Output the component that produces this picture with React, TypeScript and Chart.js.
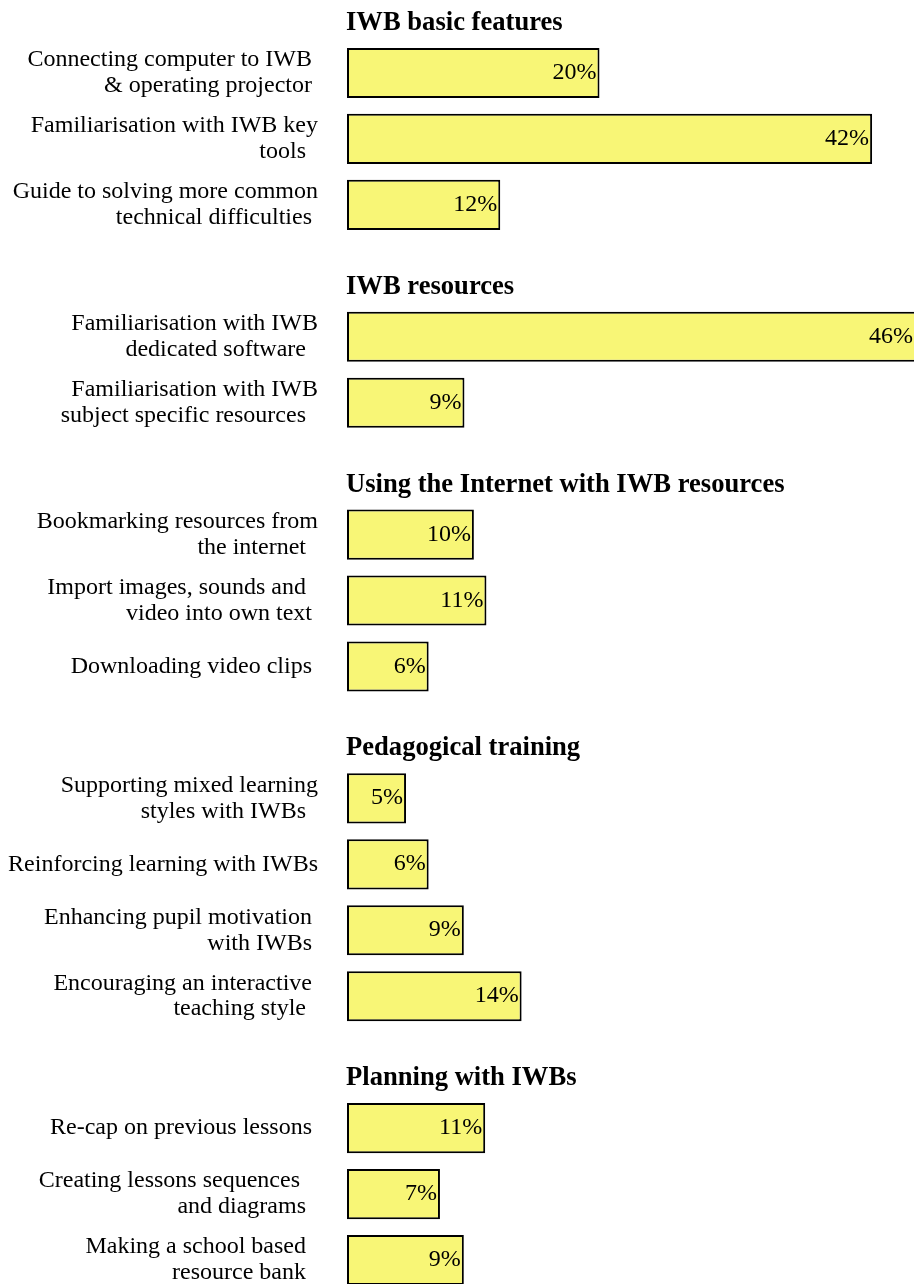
import React, { useEffect, useRef } from "react";
import { Chart, registerables } from "chart.js";

Chart.register(...registerables);

const sectionTitles = [
  "IWB basic features",
  "IWB resources",
  "Using the Internet with IWB resources",
  "Pedagogical training",
  "Planning with IWBs",
];

const basicLabels = [
  ["Connecting computer to IWB ", "& operating projector "],
  ["Familiarisation with IWB key", "tools  "],
  ["Guide to solving more common", "technical difficulties "],
];
const resourceLabels = [
  ["Familiarisation with IWB", "dedicated software  "],
  ["Familiarisation with IWB", "subject specific resources  "],
];
const internetLabels = [
  ["Bookmarking resources from", "the internet  "],
  ["Import images, sounds and  ", "video into own text "],
  ["Downloading video clips "],
];
const pedagogyLabels = [
  ["Supporting mixed learning", "styles with IWBs  "],
  ["Reinforcing learning with IWBs"],
  ["Enhancing pupil motivation ", "with IWBs "],
  ["Encouraging an interactive ", "teaching style  "],
];
const planningLabels = [
  ["Re-cap on previous lessons "],
  ["Creating lessons sequences   ", "and diagrams  "],
  ["Making a school based  ", "resource bank  "],
];

// bar lengths (percent)
const basicShares = [20.1, 41.8, 12.2];
const resourceShares = [45.3, 9.35];
const internetShares = [10.1, 11.1, 6.5];
const pedagogyShares = [4.7, 6.5, 9.3, 13.9];
const planningShares = [11.0, 7.4, 9.3];

// printed percentages
const basicPrinted = ["20%", "42%", "12%"];
const resourcePrinted = ["46%", "9%"];
const internetPrinted = ["10%", "11%", "6%"];
const pedagogyPrinted = ["5%", "6%", "9%", "14%"];
const planningPrinted = ["11%", "7%", "9%"];

const sectionLabels = [basicLabels, resourceLabels, internetLabels, pedagogyLabels, planningLabels];
const sectionShares = [basicShares, resourceShares, internetShares, pedagogyShares, planningShares];
const sectionPrinted = [basicPrinted, resourcePrinted, internetPrinted, pedagogyPrinted, planningPrinted];

const SERIF = "'Liberation Serif', 'Times New Roman', serif";

export default function App() {
  const ref = useRef<HTMLCanvasElement | null>(null);

  useEffect(() => {
    const canvas = ref.current;
    if (!canvas) return;

    const categories: (string[] | string)[] = [];
    const values: (number | null)[] = [];
    const printed: (string | null)[] = [];
    const headingAt: { index: number; title: string }[] = [];

    sectionTitles.forEach((title, s) => {
      if (s > 0) {
        categories.push("");
        values.push(null);
        printed.push(null);
      }
      headingAt.push({ index: categories.length, title });
      sectionLabels[s].forEach((lab, i) => {
        categories.push(lab);
        values.push(sectionShares[s][i]);
        printed.push(sectionPrinted[s][i]);
      });
    });

    const overlay = {
      id: "overlay",
      afterDatasetsDraw(chart: any) {
        const ctx = chart.ctx;
        const meta = chart.getDatasetMeta(0);
        ctx.save();
        ctx.fillStyle = "#000";
        ctx.font = `24px ${SERIF}`;
        ctx.textAlign = "right";
        ctx.textBaseline = "alphabetic";
        printed.forEach((txt, i) => {
          if (txt == null) return;
          const el = meta.data[i];
          ctx.fillText(txt, el.x - 3, el.y + 6);
        });
        ctx.font = `bold 26.6px ${SERIF}`;
        ctx.textAlign = "left";
        headingAt.forEach((h) => {
          const el = meta.data[h.index];
          const top = el.y - el.height / 2;
          ctx.fillText(h.title, chart.chartArea.left - 1, top - 18);
        });
        ctx.restore();
      },
    };

    const chart = new Chart(canvas, {
      type: "bar",
      data: {
        labels: categories as any,
        datasets: [
          {
            data: values,
            backgroundColor: "#f8f676",
            borderColor: "#000000",
            borderWidth: 2,
            borderSkipped: false,
            barPercentage: 0.76,
            categoryPercentage: 1,
          },
        ],
      },
      options: {
        indexAxis: "y",
        responsive: false,
        animation: false,
        layout: { padding: { top: 40, right: 0, bottom: 0, left: 0 } },
        plugins: {
          legend: { display: false },
          tooltip: { enabled: false },
        },
        scales: {
          x: {
            display: false,
            min: 0,
            max: 48,
          },
          y: {
            grid: { display: false, drawTicks: false },
            border: { display: false },
            ticks: {
              autoSkip: false,
              color: "#000",
              padding: 29,
              font: { family: SERIF, size: 24, lineHeight: 1.08 },
            },
            afterFit: (scale: any) => {
              scale.width = 347;
              scale.paddingTop = 0;
              scale.paddingBottom = 0;
            },
          },
        },
      },
      plugins: [overlay],
    });

    return () => chart.destroy();
  }, []);

  return (
    <div
      style={{
        position: "fixed",
        left: 0,
        top: 0,
        width: 914,
        height: 1284,
        overflow: "hidden",
        background: "#fff",
      }}
    >
      <canvas ref={ref} width={950} height={1293} style={{ display: "block" }} />
    </div>
  );
}
